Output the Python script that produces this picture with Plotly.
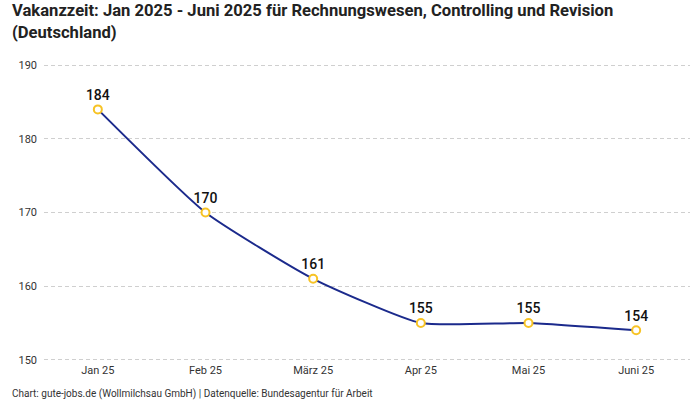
import plotly.graph_objects as go

months = ["Jan 25", "Feb 25", "März 25", "Apr 25", "Mai 25", "Juni 25"]
vakanz = [184, 170, 161, 155, 155, 154]
y_ticks = [150, 160, 170, 180, 190]

title = "Vakanzzeit: Jan 2025 - Juni 2025 für Rechnungswesen, Controlling und Revision<br>(Deutschland)"
footer = "Chart: gute-jobs.de (Wollmilchsau GmbH) | Datenquelle: Bundesagentur für Arbeit"

FONT = "Roboto"

fig = go.Figure()
fig.add_trace(go.Scatter(
    x=months, y=vakanz,
    mode="lines+markers+text",
    line=dict(color="#1b2a8c", width=2, shape="spline", smoothing=0.5),
    marker=dict(size=8, color="white", line=dict(color="#f7c325", width=2)),
    text=[str(v) for v in vakanz],
    textposition="top center",
    textfont=dict(family=FONT, size=14, color="#111111", weight=500),
    cliponaxis=False,
    hoverinfo="skip",
))

T, B = 63, 38
plot_h = 400 - T - B

fig.update_layout(
    width=700, height=400,
    paper_bgcolor="white", plot_bgcolor="white",
    margin=dict(l=44, r=10, t=T, b=B),
    showlegend=False,
    font=dict(family=FONT, size=11, color="#333333"),
    xaxis=dict(type="category", range=[-0.5, 5.5], showgrid=False, zeroline=False,
               showline=False, ticks="", tickfont=dict(size=11, color="#333333")),
    yaxis=dict(range=[149.7, 190.3], tickvals=y_ticks, showgrid=True, gridcolor="#cfcfcf",
               griddash="4px,3px", gridwidth=1, zeroline=False, showline=False, ticks="",
               ticklabelstandoff=6, tickfont=dict(size=11, color="#333333")),
    annotations=[
        dict(text="<b>" + title + "</b>", xref="paper", yref="paper",
             x=-34 / 646, y=1 + (T + 1) / plot_h, xanchor="left", yanchor="top", align="left",
             showarrow=False, font=dict(family=FONT, size=16.6, color="#222222")),
        dict(text=footer, xref="paper", yref="paper", x=-34 / 646, y=-((B - 14) / plot_h),
             xanchor="left", yanchor="top", showarrow=False,
             font=dict(family=FONT, size=10, color="#333333")),
    ],
)

fig.write_html("out.html", config={"displayModeBar": False},
               post_script="document.body.style.margin='0px';")
